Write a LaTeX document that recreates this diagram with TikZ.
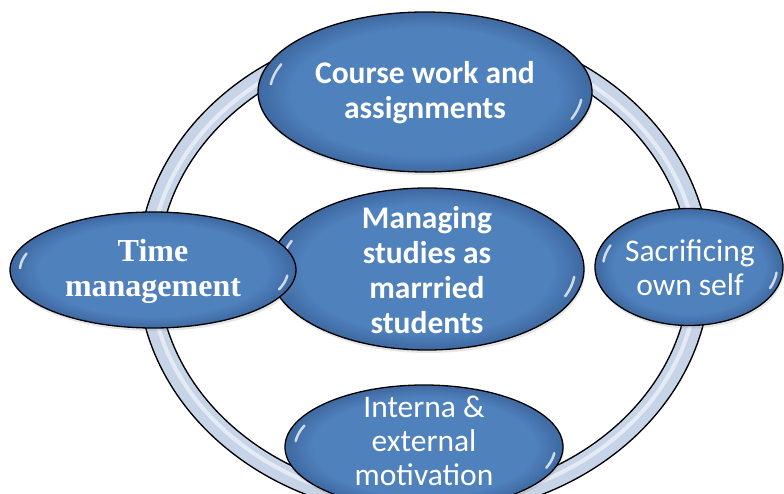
\documentclass[tikz,border=0pt]{standalone}
\usepackage{fontspec}
\setmainfont{Liberation Serif}
\newfontfamily\calib{Carlito}
\usetikzlibrary{shapes.geometric,shadows}
\definecolor{bblue}{RGB}{79,129,189}
\definecolor{bdark}{RGB}{62,104,160}
\definecolor{ringc}{RGB}{199,212,231}
\pgfdeclareradialshading{bubshade}{\pgfpoint{0bp}{0bp}}{color(0bp)=(bblue); color(20bp)=(bblue); color(25bp)=(bdark); color(50bp)=(bdark)}
\newcommand\mkglint[6]{%
  \draw[glint] plot[domain=#5:#6, smooth, variable=\t, samples=12] ({#1+#3*cos(\t)},{#2+#4*sin(\t)});}
\tikzset{
  bub/.style={ellipse, draw=black, line width=1.3pt, shading=bubshade, inner sep=0pt,
    drop shadow={shadow xshift=1pt, shadow yshift=-3pt, opacity=0.2}},
  tb/.style={text=white, align=center, inner sep=0pt, font=\calib\bfseries\fontsize{31.5}{35}\selectfont},
  tr/.style={text=white, align=center, inner sep=0pt, font=\calib\fontsize{31.5}{34}\selectfont},
  ts/.style={text=white, align=center, inner sep=0pt, font=\bfseries\fontsize{32}{35}\selectfont},
  glint/.style={white, line width=2.5pt, line cap=round, opacity=0.75},
  ringout/.style={line width=22pt, black},
  ringin/.style={line width=19pt, ringc},
  ringhl/.style={line width=4pt, white, opacity=0.55},
}
\begin{document}
\begin{tikzpicture}[x=1pt, y=-1pt]
\useasboundingbox (0,0) rectangle (784,494);
% ring
\coordinate (rc) at (424,270);
\draw[ringout] (rc) ellipse [x radius=276pt, y radius=236pt];
\draw[ringin] (rc) ellipse [x radius=276pt, y radius=236pt];
\draw[ringhl] (rc) ellipse [x radius=274pt, y radius=234pt];
% bubbles
\node[bub, minimum width=334pt, minimum height=160pt] (top) at (425,92) {};
\mkglint{425}{92}{155}{74}{186}{202}
\mkglint{425}{92}{157}{75}{6}{21}
\node[tb] (topt) at (425,93) {Course work and\\assignments};

\node[bub, minimum width=314pt, minimum height=162pt] (mid) at (427,269) {};
\mkglint{427}{269}{146}{75}{186}{202}
\mkglint{427}{269}{148}{76}{6}{21}
\node[tb] (midt) at (427,270) {Managing\\studies as\\marrried\\students};

\node[bub, minimum width=188pt, minimum height=117pt] (right) at (689,267) {};
\mkglint{689}{267}{86}{53}{186}{204}
\mkglint{689}{267}{88}{54}{6}{23}
\node[tr] (rightt) at (690,268) {Sacrificing\\own self};

\node[bub, minimum width=278pt, minimum height=124pt] (bot) at (424,447) {};
\mkglint{424}{447}{129}{57}{186}{202}
\mkglint{424}{447}{131}{58}{6}{21}
\node[tr] (bott) at (424,441) {Interna \&\\external\\motivation};

\node[bub, minimum width=286pt, minimum height=116pt] (left) at (153,270) {};
\mkglint{153}{270}{133}{53}{182}{198}
\mkglint{153}{270}{135}{54}{6}{21}
\node[ts] (leftt) at (153,271) {Time\\management};
\end{tikzpicture}
\end{document}
